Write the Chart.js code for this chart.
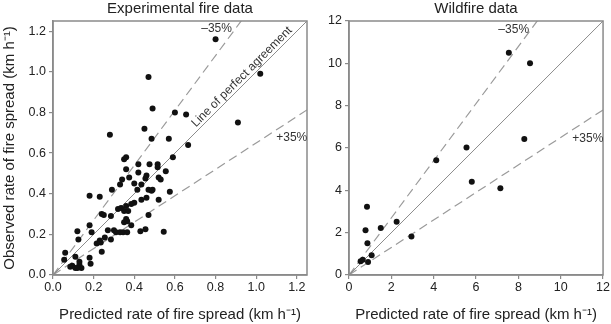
<!DOCTYPE html>
<html>
<head>
<meta charset="utf-8">
<script src="https://cdn.jsdelivr.net/npm/chart.js@4.4.0/dist/chart.umd.min.js"></script>
<style>
  body { margin: 0; background: #fff; width: 611px; height: 324px; overflow: hidden; position: relative; }
  canvas { position: absolute; top: 0; }
</style>
</head>
<body>
<canvas id="expChart" width="320" height="324" style="left:0"></canvas>
<canvas id="wildChart" width="291" height="324" style="left:320px"></canvas>
<script>
// experimental fires: predicted vs observed (km/h)
const expPredicted = [0.80, 1.02, 0.47, 0.49, 0.60, 0.655, 0.91, 0.45, 0.28, 0.485, 0.57, 0.665,
  0.59, 0.35, 0.36, 0.42, 0.475, 0.515, 0.515, 0.36, 0.42, 0.555, 0.46, 0.455, 0.52, 0.53, 0.375,
  0.34, 0.33, 0.40, 0.435, 0.29, 0.415, 0.47, 0.485, 0.49, 0.575, 0.52, 0.46, 0.435, 0.40, 0.385,
  0.36, 0.32, 0.335, 0.35, 0.37, 0.18, 0.23, 0.24, 0.25, 0.285, 0.36, 0.35, 0.365, 0.47, 0.18,
  0.385, 0.12, 0.19, 0.30, 0.27, 0.31, 0.33, 0.345, 0.365, 0.43, 0.455, 0.545, 0.255, 0.23, 0.215,
  0.235, 0.285, 0.125, 0.24, 0.06, 0.055, 0.11, 0.18, 0.185, 0.13, 0.13, 0.095, 0.085, 0.14, 0.11, 0.12];
const expObserved = [1.16, 0.99, 0.975, 0.82, 0.80, 0.79, 0.75, 0.72, 0.69, 0.67, 0.67, 0.64,
  0.58, 0.57, 0.58, 0.545, 0.545, 0.545, 0.53, 0.52, 0.505, 0.51, 0.49, 0.475, 0.48, 0.47, 0.48,
  0.47, 0.445, 0.45, 0.445, 0.42, 0.42, 0.42, 0.415, 0.42, 0.41, 0.37, 0.38, 0.37, 0.355, 0.35,
  0.34, 0.325, 0.33, 0.315, 0.315, 0.39, 0.385, 0.30, 0.295, 0.29, 0.275, 0.26, 0.265, 0.295, 0.245,
  0.245, 0.215, 0.21, 0.22, 0.22, 0.21, 0.21, 0.21, 0.21, 0.215, 0.225, 0.213, 0.185, 0.17, 0.155,
  0.16, 0.175, 0.175, 0.115, 0.11, 0.075, 0.09, 0.085, 0.055, 0.065, 0.05, 0.045, 0.04, 0.035, 0.035, 0.035];

// wildfires
const wildPredicted = [0.55, 0.65, 0.9, 1.07, 0.87, 0.78, 0.85, 1.5, 2.25, 2.95, 4.12, 5.55, 5.8, 7.15, 8.28, 7.55, 8.55];
const wildObserved = [0.65, 0.72, 0.62, 0.93, 1.5, 2.12, 3.22, 2.22, 2.52, 1.82, 5.42, 6.02, 4.4, 4.1, 6.42, 10.5, 10.0];

const expTicks = [0, 0.2, 0.4, 0.6, 0.8, 1.0, 1.2];
const wildTicks = [0, 2, 4, 6, 8, 10, 12];

// reference lines: 1:1 and +/-35 %
const upperSlope = 1.35;
const lowerSlope = 0.65;

Chart.defaults.font.family = "'Liberation Sans', Arial, sans-serif";
Chart.defaults.color = '#222';

const frameColor = '#8a8a8a';

// box around plot area + title + text labels
const framePlugin = {
  id: 'frame',
  afterDraw(chart, args, opts) {
    const { ctx, chartArea: a, scales } = chart;
    ctx.save();
    ctx.strokeStyle = frameColor;
    ctx.lineWidth = 1.5;
    ctx.strokeRect(a.left, a.top, a.right - a.left, a.bottom - a.top);

    ctx.fillStyle = '#222';
    ctx.font = "15px 'Liberation Sans', Arial, sans-serif";
    ctx.textAlign = 'center';
    ctx.textBaseline = 'middle';
    ctx.fillText(opts.title, (a.left + a.right) / 2, 9);

    ctx.font = "12px 'Liberation Sans', Arial, sans-serif";
    ctx.fillStyle = '#333';
    opts.notes.forEach(n => {
      const px = scales.x.getPixelForValue(n.x);
      const py = scales.y.getPixelForValue(n.y);
      ctx.save();
      ctx.translate(px, py);
      if (n.along) {
        const x0 = scales.x.getPixelForValue(0), y0 = scales.y.getPixelForValue(0);
        const x1 = scales.x.getPixelForValue(1), y1 = scales.y.getPixelForValue(1);
        ctx.rotate(Math.atan2(y1 - y0, x1 - x0));
      }
      ctx.fillText(n.text, 0, 0);
      ctx.restore();
    });
    ctx.restore();
  }
};

function refLines(max) {
  const dash = [9, 5];
  return [
    { type: 'line', data: [{ x: 0, y: 0 }, { x: max, y: max }], borderColor: '#8c8c8c', borderWidth: 1, pointRadius: 0 },
    { type: 'line', data: [{ x: 0, y: 0 }, { x: max, y: max * upperSlope }], borderColor: '#9a9a9a', borderWidth: 1.2, borderDash: dash, pointRadius: 0 },
    { type: 'line', data: [{ x: 0, y: 0 }, { x: max, y: max * lowerSlope }], borderColor: '#9a9a9a', borderWidth: 1.2, borderDash: dash, pointRadius: 0 }
  ];
}

function axis(max, ticks, digits, titleText, fitSize, horizontal) {
  return {
    type: 'linear',
    min: 0,
    max: max,
    afterBuildTicks: s => { s.ticks = ticks.map(v => ({ value: v })); },
    afterFit: s => { if (horizontal) s.height = fitSize; else s.width = fitSize; },
    ticks: {
      autoSkip: false, maxRotation: 0,
      padding: horizontal ? 1 : 3,
      font: { size: 12.5 }, color: '#222',
      callback: v => v.toFixed(digits)
    },
    grid: { drawOnChartArea: false, tickLength: 4, color: frameColor, lineWidth: 1.2 },
    border: { color: frameColor, width: 1.5 },
    title: {
      display: !!titleText, text: titleText, font: { size: 15 }, color: '#222',
      padding: horizontal ? { top: 0, bottom: 0 } : { top: 1, bottom: 0 }
    }
  };
}

function makeChart(id, px, py, max, ticks, digits, yTitle, yWidth, padRight, title, notes) {
  const points = px.map((x, i) => ({ x: x, y: py[i] }));
  return new Chart(document.getElementById(id), {
    type: 'scatter',
    data: {
      datasets: [
        { data: points, backgroundColor: '#111', borderColor: '#111', pointRadius: 3, pointBorderWidth: 0 },
        ...refLines(max)
      ]
    },
    options: {
      responsive: false,
      animation: false,
      layout: { padding: { left: 0, right: padRight, top: 21, bottom: 0 } },
      plugins: {
        legend: { display: false },
        tooltip: { enabled: false },
        frame: { title: title, notes: notes }
      },
      scales: {
        x: axis(max, ticks, digits, 'Predicted rate of fire spread (km h\u207B\u00B9)', 49, true),
        y: axis(max, ticks, digits, yTitle, yWidth, false)
      }
    },
    plugins: [framePlugin]
  });
}

makeChart('expChart', expPredicted, expObserved, 1.25, expTicks, 1,
  'Observed rate of fire spread (km h\u207B\u00B9)', 53, 13, 'Experimental fire data', [
    { text: '\u201335%', x: 0.805, y: 1.21 },
    { text: '+35%', x: 1.175, y: 0.674 },
    { text: 'Line of perfect agreement', x: 0.93, y: 0.975, along: true }
  ]);

makeChart('wildChart', wildPredicted, wildObserved, 12, wildTicks, 0,
  '', 29, 7, 'Wildfire data', [
    { text: '\u201335%', x: 7.78, y: 11.6 },
    { text: '+35%', x: 11.28, y: 6.42 }
  ]);
</script>
</body>
</html>
